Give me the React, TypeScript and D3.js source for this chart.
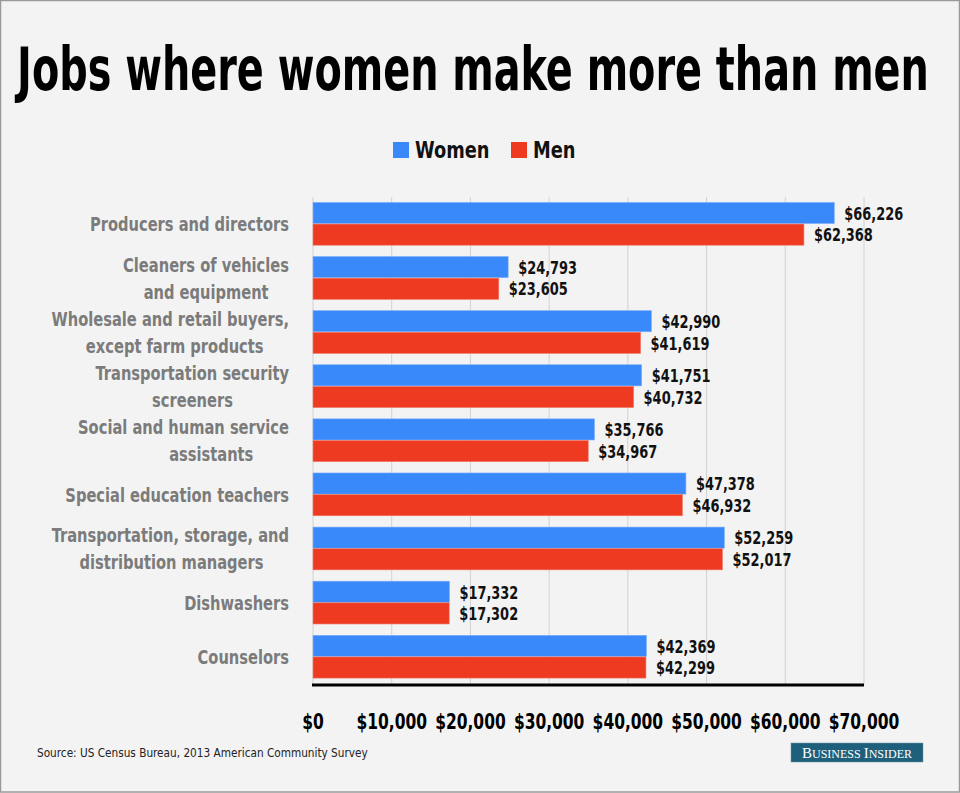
import React, { useEffect, useLayoutEffect, useRef, useState } from "react";
import * as d3 from "d3";

const categories = [
  ["Producers and directors"],
  ["Cleaners of vehicles", "and equipment\u00A0\u00A0\u00A0\u00A0"],
  ["Wholesale and retail buyers,", "except farm products\u00A0\u00A0\u00A0\u00A0\u00A0"],
  ["Transportation security", "screeners\u00A0\u00A0\u00A0\u00A0\u00A0\u00A0\u00A0\u00A0\u00A0\u00A0\u00A0"],
  ["Social and human service", "assistants\u00A0\u00A0\u00A0\u00A0\u00A0\u00A0\u00A0"],
  ["Special education teachers"],
  ["Transportation, storage, and", "distribution managers\u00A0\u00A0\u00A0\u00A0\u00A0"],
  ["Dishwashers"],
  ["Counselors"],
];
const women = [66226, 24793, 42990, 41751, 35766, 47378, 52259, 17332, 42369];
const men = [62368, 23605, 41619, 40732, 34967, 46932, 52017, 17302, 42299];
const seriesNames = ["Women", "Men"];
const seriesColors = ["#3a89fb", "#ee3a21"];
const xTicks = [0, 10000, 20000, 30000, 40000, 50000, 60000, 70000];
const title = "Jobs where women make more than men";
const source = "Source: US Census Bureau, 2013 American Community Survey";

const W = 960;
const H = 793;
const FONT = "'DejaVu Sans Condensed', 'Liberation Sans Narrow', 'Roboto', sans-serif";

function T(props: {
  x: number; y: number; sx?: number; anchor?: string; size: number; weight?: string; fill?: string;
  children: React.ReactNode; family?: string;
}) {
  const { x, y, sx = 0.82, anchor = "start", size, weight = "bold", fill = "#000", family } = props;
  return (
    <g transform={`translate(${x},${y}) scale(${sx},1)`}>
      <text x={0} y={0} textAnchor={anchor} fontSize={size} fontWeight={weight} fill={fill}
        fontFamily={family} style={{ whiteSpace: "pre" }}>{props.children}</text>
    </g>
  );
}

function FitText(props: { cx: number; y: number; width: number; size: number; children: string }) {
  const ref = useRef<SVGTextElement>(null);
  const [s, setS] = useState(0.8);
  useLayoutEffect(() => {
    if (ref.current) {
      const w = ref.current.getComputedTextLength();
      if (w > 0) setS(props.width / w);
    }
  }, []);
  return (
    <g transform={`translate(${props.cx},${props.y}) scale(${s},1)`}>
      <text ref={ref} x={0} y={0} textAnchor="middle" fontSize={props.size} fontWeight="bold" fill="#000">
        {props.children}
      </text>
    </g>
  );
}

export default function App() {
  useEffect(() => {
    document.body.style.margin = "0";
  }, []);

  const x = d3.scaleLinear().domain([0, 70000]).range([313, 864]);
  const idx = d3.range(categories.length);
  const y = d3.scaleBand<number>().domain(idx).range([197, 684]).paddingInner(0.2).paddingOuter(0.1);
  const bw = y.bandwidth() / 2;
  const fmt = (v: number) => "$" + d3.format(",")(v);
  const series = [women, men];

  return (
    <svg width={W} height={H} style={{ display: "block", position: "absolute", left: 0, top: 0 }} fontFamily={FONT}>
      <rect x={0} y={0} width={W} height={H} fill="#f3f3f3" />
      <rect x={0.5} y={0.5} width={W - 1} height={H - 1.5} fill="none" stroke="#9a9a9a" strokeWidth={1.5} />
      <FitText cx={473} y={90} width={912} size={60}>{title}</FitText>

      {/* legend */}
      {seriesNames.map((s, i) => {
        const lx = i === 0 ? 393 : 511;
        return (
          <g key={s}>
            <rect x={lx} y={142} width={16} height={16} fill={seriesColors[i]} />
            <T x={lx + 22} y={158} size={23} sx={0.86} fill="#111">{s}</T>
          </g>
        );
      })}

      {/* grid */}
      {xTicks.map((t) => (
        <line key={t} x1={x(t)} x2={x(t)} y1={197} y2={684} stroke="#d2d2d2" strokeWidth={1} />
      ))}

      {/* bars */}
      {idx.map((i) => (
        <g key={i}>
          {series.map((arr, si) => {
            const yy = (y(i) as number) + si * bw;
            return (
              <g key={si}>
                <rect x={x(0)} y={yy} width={x(arr[i]) - x(0)} height={bw - 0.5} fill={seriesColors[si]}
                  stroke={si === 0 ? "#7fb0fb" : "#f07a68"} strokeWidth={0.6} />
                <T x={x(arr[i]) + 10} y={yy + bw / 2 + 6.5} size={18} sx={0.8} fill="#111">{fmt(arr[i])}</T>
              </g>
            );
          })}
          {categories[i].map((line, li) => {
            const n = categories[i].length;
            const cy = (y(i) as number) + y.bandwidth() / 2;
            const ly = cy + (li - (n - 1) / 2) * 27 + 7;
            return (
              <T key={li} x={289} y={ly} anchor="end" size={20} sx={0.815} fill="#7b7b7b">{line}</T>
            );
          })}
        </g>
      ))}

      {/* axis */}
      <line x1={312} x2={864} y1={685} y2={685} stroke="#000" strokeWidth={3} />
      {xTicks.map((t) => (
        <T key={t} x={x(t)} y={729} anchor="middle" size={21} sx={0.82} fill="#000">{fmt(t)}</T>
      ))}

      {/* footer */}
      <T x={37} y={757} size={13} sx={0.9} weight="normal" fill="#222">{source}</T>
      <rect x={791} y={743} width={132} height={19} fill="#1e5f7b" stroke="#6c97ab" strokeWidth={0.5} />
      <T x={857} y={758} anchor="middle" size={15} sx={1.0} weight="normal" fill="#fff"
        family="'Liberation Serif', 'DejaVu Serif', serif">
        <tspan>B</tspan><tspan fontSize={12}>USINESS </tspan><tspan>I</tspan><tspan fontSize={12}>NSIDER</tspan>
      </T>
    </svg>
  );
}
